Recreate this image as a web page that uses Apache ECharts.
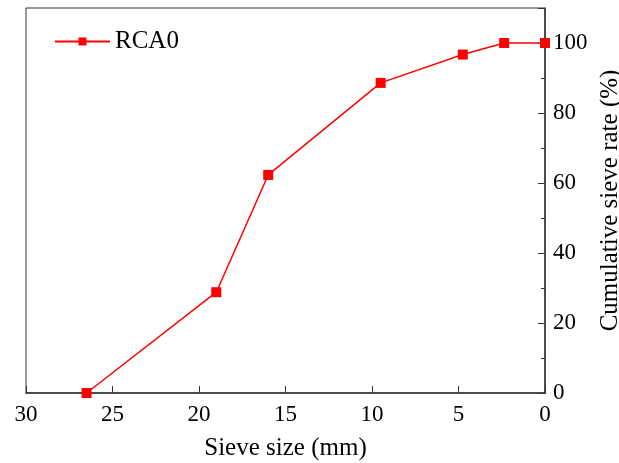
<!DOCTYPE html>
<html>
<head>
<meta charset="utf-8">
<script src="https://cdn.jsdelivr.net/npm/echarts@6/dist/echarts.min.js"></script>
<style>
	html, body { margin: 0; padding: 0; background: #fff; }
	#chart { width: 619px; height: 463px; }
</style>
</head>
<body>
<div id="chart"></div>
<script>
// 数据
var seriesName = 'RCA0';
var sieveSize = [26.5, 19, 16, 9.5, 4.75, 2.36, 0];
var passRate = [0, 28.8, 62.3, 88.6, 96.7, 100, 100];

var fontFamily = '"Liberation Serif", "Times New Roman", serif';

var chart = echarts.init(document.getElementById('chart'));

var points = [];
for (var i = 0; i < sieveSize.length; i++) {
	points.push([sieveSize[i], passRate[i]]);
}

var option = {
	animation: false,
	backgroundColor: '#fff',
	grid: {
		left: 26,
		right: 74,
		top: 8,
		bottom: 70,
		outerBoundsMode: 'none',
		containLabel: false,
		show: true,
		borderColor: '#333',
		borderWidth: 1
	},
	legend: {
		data: [seriesName],
		left: 54,
		top: 29,
		padding: 0,
		itemWidth: 55,
		itemHeight: 10,
		textStyle: { fontFamily: fontFamily, fontSize: 25, color: '#000' }
	},
	xAxis: {
		type: 'value',
		inverse: true,
		min: 0,
		max: 30,
		interval: 5,
		name: 'Sieve size (mm)',
		nameLocation: 'middle',
		nameGap: 43,
		nameTextStyle: { fontFamily: fontFamily, fontSize: 25, color: '#000' },
		axisLine: { lineStyle: { color: '#333', width: 1.5 } },
		axisTick: { inside: true, length: 7, lineStyle: { color: '#333' } },
		axisLabel: { fontFamily: fontFamily, fontSize: 23, color: '#000', margin: 10 },
		splitLine: { show: false }
	},
	yAxis: {
		type: 'value',
		position: 'right',
		min: 0,
		max: 110,
		interval: 20,
		name: 'Cumulative sieve rate (%)',
		nameLocation: 'middle',
		nameRotate: 90,
		nameGap: 47,
		nameTextStyle: { fontFamily: fontFamily, fontSize: 25, color: '#000' },
		axisLine: { show: true, lineStyle: { color: '#333', width: 1.5 } },
		axisTick: { show: true, inside: true, length: 7, lineStyle: { color: '#333' } },
		minorTick: { show: true, splitNumber: 2, length: 4, lineStyle: { color: '#333' } },
		axisLabel: { fontFamily: fontFamily, fontSize: 23, color: '#000', margin: 8, showMaxLabel: false },
		splitLine: { show: false }
	},
	series: [{
		name: seriesName,
		type: 'line',
		data: points,
		symbol: 'rect',
		symbolSize: 10,
		color: '#ff0000',
		lineStyle: { color: '#ff0000', width: 1.5 },
		itemStyle: { color: '#ff0000' }
	}]
};
chart.setOption(option);
</script>
</body>
</html>
